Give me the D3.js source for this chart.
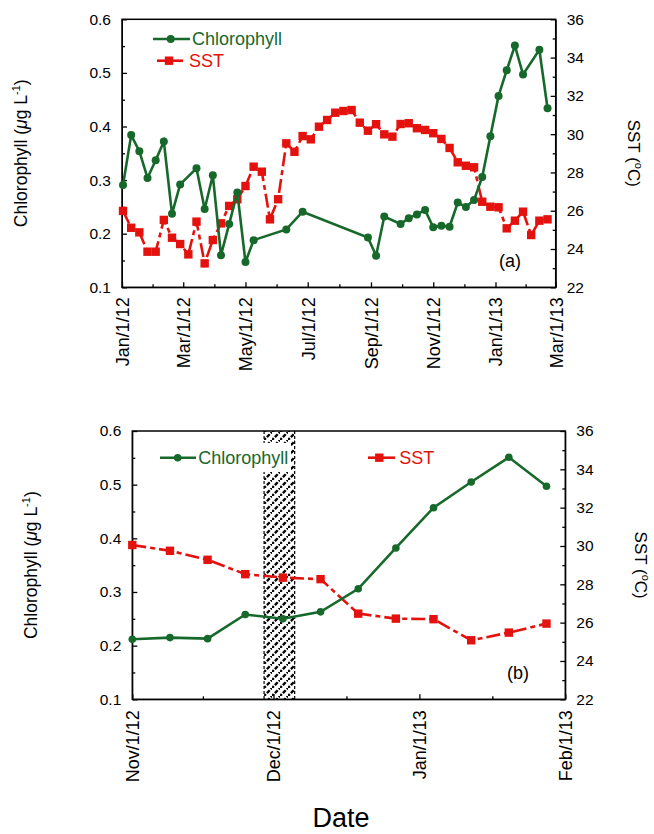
<!DOCTYPE html>
<html>
<head>
<meta charset="utf-8">
<script src="https://cdn.jsdelivr.net/npm/d3@7/dist/d3.min.js"></script>
<style>
  html, body { margin: 0; padding: 0; background: #fff; }
  svg { display: block; font-family: "Liberation Sans", Arial, Helvetica, sans-serif; }
</style>
</head>
<body>
<svg id="chart" width="654" height="834"></svg>
<script>
// ---------------- DATA ----------------
const sstDates = [
  "2012-01-02","2012-01-10","2012-01-18","2012-01-26","2012-02-03","2012-02-11","2012-02-19","2012-02-27",
  "2012-03-06","2012-03-14","2012-03-22","2012-03-30","2012-04-07","2012-04-15","2012-04-23","2012-05-01",
  "2012-05-09","2012-05-17","2012-05-25","2012-06-02","2012-06-10","2012-06-18","2012-06-26","2012-07-04",
  "2012-07-12","2012-07-20","2012-07-28","2012-08-05","2012-08-13","2012-08-21","2012-08-29","2012-09-06",
  "2012-09-14","2012-09-22","2012-09-30","2012-10-08","2012-10-16","2012-10-24","2012-11-01","2012-11-09",
  "2012-11-17","2012-11-25","2012-12-03","2012-12-11","2012-12-19","2012-12-27","2013-01-04","2013-01-12",
  "2013-01-20","2013-01-28","2013-02-05","2013-02-13","2013-02-21"
];
const sstValues = [
  25.99, 25.11, 24.87, 23.86, 23.86, 25.52, 24.59, 24.26,
  23.72, 25.43, 23.25, 24.47, 25.34, 26.25, 26.60, 27.29,
  28.30, 28.04, 25.55, 26.60, 29.52, 29.08, 29.90, 29.73,
  30.39, 30.74, 31.12, 31.21, 31.26, 30.60, 30.18, 30.52,
  29.99, 29.87, 30.53, 30.57, 30.31, 30.22, 30.05, 29.75,
  29.28, 28.53, 28.35, 28.27, 26.47, 26.21, 26.18, 25.08,
  25.48, 25.95, 24.73, 25.48, 25.55
];
const chlDates = [
  "2012-01-02","2012-01-10","2012-01-18","2012-01-26","2012-02-03","2012-02-11","2012-02-19","2012-02-27",
  "2012-03-14","2012-03-22","2012-03-30","2012-04-07","2012-04-15","2012-04-23","2012-05-01","2012-05-09",
  "2012-06-10","2012-06-26","2012-08-29","2012-09-06","2012-09-14","2012-09-30","2012-10-08","2012-10-16",
  "2012-10-24","2012-11-01","2012-11-09","2012-11-17","2012-11-25","2012-12-03","2012-12-11","2012-12-19",
  "2012-12-27","2013-01-04","2013-01-12","2013-01-20","2013-01-28","2013-02-13","2013-02-21"
];
const chlValues = [
  0.291, 0.384, 0.354, 0.304, 0.337, 0.372, 0.237, 0.292,
  0.322, 0.246, 0.309, 0.160, 0.218, 0.277, 0.147, 0.188,
  0.208, 0.241, 0.193, 0.159, 0.232, 0.218, 0.229, 0.236,
  0.244, 0.212, 0.215, 0.213, 0.258, 0.250, 0.263, 0.306,
  0.382, 0.457, 0.505, 0.551, 0.497, 0.543, 0.434
];
const chlTicks = [0.1, 0.2, 0.3, 0.4, 0.5, 0.6];
const sstTicks = [22, 24, 26, 28, 30, 32, 34, 36];
const ticksA = ["2012-01-01","2012-03-01","2012-05-01","2012-07-01","2012-09-01","2012-11-01","2013-01-01","2013-03-01"];
const ticksB = ["2012-11-01","2012-12-01","2013-01-01","2013-02-01"];
const hatchSpan = ["2012-11-29T00:00", "2012-12-05T12:00"];
const legendLabels = ["Chlorophyll", "SST"];

// ---------------- SETUP ----------------
const parse = d3.utcParse("%Y-%m-%d");
const parseT = d3.utcParse("%Y-%m-%dT%H:%M");
const fmt = d3.utcFormat("%b/%-d/%y");
const GREEN = "#17692b", RED = "#e3120f";
const FONT = "'Liberation Sans', Arial, Helvetica, sans-serif";

const chl = chlDates.map((d, i) => ({ date: parse(d), v: chlValues[i] }));
const sst = sstDates.map((d, i) => ({ date: parse(d), v: sstValues[i] }));

const svg = d3.select("#chart");
const defs = svg.append("defs");
const pat = defs.append("pattern").attr("id", "hatch").attr("patternUnits", "userSpaceOnUse")
  .attr("width", 8).attr("height", 8);
pat.append("path").attr("d", "M-1,9 L9,-1").attr("stroke", "#000").attr("stroke-width", 2.3)
  .attr("stroke-dasharray", "4,1.5");

function panel(opts) {
  const { left, right, top, bottom, domain, ticks, chlR, label, labelPos, legend, hatch, ylabX, sstLabX, xLabGap } = opts;
  const x = d3.scaleUtc().domain(domain).range([left, right]);
  const yC = d3.scaleLinear().domain([0.1, 0.6]).range([bottom, top]);
  const yS = d3.scaleLinear().domain([22, 36]).range([bottom, top]);
  const g = svg.append("g");

  const inRange = d => d.date >= domain[0] && d.date <= domain[1];
  const chlD = chl.filter(inRange), sstD = sst.filter(inRange);

  // hatch band
  if (hatch) {
    const x0 = x(parseT(hatch[0])), x1 = x(parseT(hatch[1]));
    g.append("rect").attr("x", x0).attr("y", top).attr("width", x1 - x0).attr("height", bottom - top)
      .attr("fill", "url(#hatch)");
    [x0, x1].forEach(xx => g.append("line").attr("x1", xx).attr("x2", xx).attr("y1", top).attr("y2", bottom)
      .attr("stroke", "#000").attr("stroke-width", 1.2).attr("stroke-dasharray", "3,2"));
  }

  // legend background
  if (legend.bg) {
    g.append("rect").attr("x", legend.bg[0]).attr("y", legend.bg[1]).attr("width", legend.bg[2]).attr("height", legend.bg[3])
      .attr("fill", "#fff");
  }

  // axes
  const majors = ticks.map(parse);
  const minors = d3.pairs(majors).map(([a, b]) => new Date((+a + +b) / 2));
  const xAxis = d3.axisBottom(x).tickValues(majors).tickFormat(fmt).tickSizeInner(-5).tickSizeOuter(0).tickPadding(0);
  const gx = g.append("g").attr("transform", `translate(0,${bottom})`).call(xAxis);
  gx.selectAll(".tick line").attr("stroke-width", 1.3);
  gx.selectAll("text").attr("font-size", 18).attr("font-family", FONT).attr("fill", "#000")
    .attr("text-anchor", "end").attr("y", null)
    .attr("transform", `translate(0,${xLabGap}) rotate(-90)`).attr("dy", "0.36em");
  g.append("g").attr("transform", `translate(0,${bottom})`)
    .call(d3.axisBottom(x).tickValues(minors).tickFormat("").tickSizeInner(-3).tickSizeOuter(0))
    .call(s => s.select(".domain").remove()).selectAll("line").attr("stroke-width", 1.3);

  const yAxisL = d3.axisLeft(yC).tickValues(chlTicks).tickFormat(d3.format(".1f")).tickSizeInner(-5).tickSizeOuter(0).tickPadding(11);
  const gl = g.append("g").attr("transform", `translate(${left},0)`).call(yAxisL);
  gl.selectAll("text").attr("font-size", 15.5).attr("font-family", FONT).attr("fill", "#000");
  gl.selectAll(".tick line").attr("stroke-width", 1.3);
  g.append("g").attr("transform", `translate(${left},0)`)
    .call(d3.axisLeft(yC).tickValues([0.15, 0.25, 0.35, 0.45, 0.55]).tickFormat("").tickSizeInner(-3).tickSizeOuter(0))
    .call(s => s.select(".domain").remove()).selectAll("line").attr("stroke-width", 1.3);

  const yAxisR = d3.axisRight(yS).tickValues(sstTicks).tickSizeInner(-5).tickSizeOuter(0).tickPadding(11);
  const gr = g.append("g").attr("transform", `translate(${right},0)`).call(yAxisR);
  gr.selectAll("text").attr("font-size", 15.5).attr("font-family", FONT).attr("fill", "#000");
  gr.selectAll(".tick line").attr("stroke-width", 1.3);
  g.append("g").attr("transform", `translate(${right},0)`)
    .call(d3.axisRight(yS).tickValues([23, 25, 27, 29, 31, 33, 35]).tickFormat("").tickSizeInner(-3).tickSizeOuter(0))
    .call(s => s.select(".domain").remove()).selectAll("line").attr("stroke-width", 1.3);

  // frame
  g.append("rect").attr("x", left).attr("y", top).attr("width", right - left).attr("height", bottom - top)
    .attr("fill", "none").attr("stroke", "#000").attr("stroke-width", 1.5);

  // SST line
  const lineS = d3.line().x(d => x(d.date)).y(d => yS(d.v));
  g.append("path").datum(sstD).attr("d", lineS).attr("fill", "none").attr("stroke", RED)
    .attr("stroke-width", 2.6).attr("stroke-dasharray", "14,4,5,4");
  g.selectAll(null).data(sstD).enter().append("rect")
    .attr("x", d => x(d.date) - 4.2).attr("y", d => yS(d.v) - 4.2).attr("width", 8.4).attr("height", 8.4)
    .attr("fill", RED);

  // Chl line
  const lineC = d3.line().x(d => x(d.date)).y(d => yC(d.v));
  g.append("path").datum(chlD).attr("d", lineC).attr("fill", "none").attr("stroke", GREEN).attr("stroke-width", 2.6);
  g.selectAll(null).data(chlD).enter().append("circle")
    .attr("cx", d => x(d.date)).attr("cy", d => yC(d.v)).attr("r", chlR).attr("fill", GREEN);

  // legend
  const L = legend;
  g.append("line").attr("x1", L.c[0]).attr("x2", L.c[1]).attr("y1", L.c[3]).attr("y2", L.c[3])
    .attr("stroke", GREEN).attr("stroke-width", 2.6);
  g.append("circle").attr("cx", L.c[2]).attr("cy", L.c[3]).attr("r", chlR).attr("fill", GREEN);
  g.append("text").attr("x", L.c[4]).attr("y", L.c[3]).attr("dy", "0.35em").attr("font-size", 18)
    .attr("fill", GREEN).text(legendLabels[0]);
  g.append("line").attr("x1", L.s[0]).attr("x2", L.s[1]).attr("y1", L.s[3]).attr("y2", L.s[3])
    .attr("stroke", RED).attr("stroke-width", 2.6);
  g.append("rect").attr("x", L.s[2] - 4.2).attr("y", L.s[3] - 4.2).attr("width", 8.4).attr("height", 8.4).attr("fill", RED);
  g.append("text").attr("x", L.s[4]).attr("y", L.s[3]).attr("dy", "0.35em").attr("font-size", 18)
    .attr("fill", RED).text(legendLabels[1]);

  // panel label
  g.append("text").attr("x", labelPos[0]).attr("y", labelPos[1]).attr("font-size", 18).attr("text-anchor", "middle")
    .text(label);

  // y-axis titles
  const cy = (top + bottom) / 2;
  const t1 = g.append("text").attr("transform", `translate(${ylabX},${cy}) rotate(-90)`)
    .attr("text-anchor", "middle").attr("font-size", 17.5);
  t1.append("tspan").text("Chlorophyll (");
  t1.append("tspan").attr("font-style", "italic").text("\u03bc");
  t1.append("tspan").text("g L");
  t1.append("tspan").attr("font-size", 11).attr("dy", "-0.6em").text("-1");
  t1.append("tspan").attr("dy", "0.4em").text(")");

  const t2 = g.append("text").attr("transform", `translate(${sstLabX},${cy}) rotate(90)`)
    .attr("text-anchor", "middle").attr("font-size", 17);
  t2.append("tspan").text("SST (");
  t2.append("tspan").attr("font-size", 11).attr("dy", "-0.6em").text("o");
  t2.append("tspan").attr("dy", "0.4em").text("C)");
}

panel({
  left: 122, right: 555.7, top: 19.3, bottom: 287.3,
  domain: [parse("2012-01-01"), parse("2013-03-01")], ticks: ticksA, chlR: 4,
  label: "(a)", labelPos: [510, 267], xLabGap: 10,
  legend: { c: [153, 190, 170.7, 39, 192], s: [157, 183, 169, 60.7, 189], bg: null },
  hatch: null, ylabX: 27, sstLabX: 628
});
panel({
  left: 132.3, right: 565.3, top: 431, bottom: 699.3,
  domain: [parse("2012-11-01"), parse("2013-02-01")], ticks: ticksB, chlR: 3.8,
  label: "(b)", labelPos: [518, 679], xLabGap: 11,
  legend: { c: [160, 196, 177.7, 457.7, 198.3], s: [368, 395, 379.3, 457.7, 399.3], bg: [150, 443, 141, 29] },
  hatch: hatchSpan, ylabX: 37, sstLabX: 635
});

svg.append("text").attr("x", 341).attr("y", 827).attr("text-anchor", "middle").attr("font-size", 27)
  .text("Date");
</script>
</body>
</html>
